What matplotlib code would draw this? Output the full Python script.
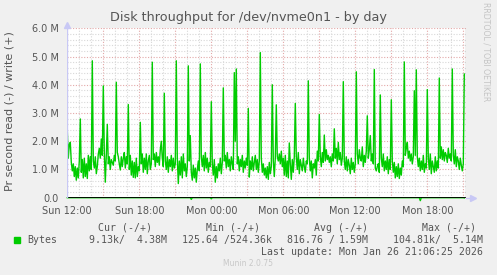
import numpy as np
import matplotlib
matplotlib.use("Agg")
import matplotlib.pyplot as plt

# write throughput (in M), one value per 5 minutes from Sun 12:00
write = [
    2.38, 1.40, 1.90, 1.96, 1.25, 0.95, 1.20, 0.75, 1.10, 0.62, 1.05, 0.70,
    1.30, 2.79, 0.90, 1.35, 0.70, 1.40, 0.75, 1.20, 0.68, 1.50, 0.95, 1.45,
    1.00, 4.85, 1.30, 1.05, 1.45, 0.85, 1.10, 1.55, 1.75, 1.40, 2.08, 1.50,
    3.96, 1.60, 0.55, 1.50, 2.60, 1.20, 1.45, 1.00, 1.35, 1.25, 1.15, 1.50,
    1.30, 4.09, 1.60, 1.45, 1.20, 0.98, 1.45, 1.10, 1.40, 1.60, 1.05, 1.45,
    1.20, 3.30, 1.00, 1.50, 0.80, 1.30, 0.72, 1.25, 0.70, 1.40, 0.75, 1.10,
    0.95, 2.67, 1.20, 1.55, 0.90, 1.40, 1.00, 1.55, 0.85, 1.30, 1.50, 1.00,
    1.20, 4.80, 1.35, 1.55, 1.10, 1.60, 1.25, 1.45, 1.15, 1.70, 2.00, 1.40,
    1.10, 3.70, 1.30, 1.00, 1.45, 0.90, 1.35, 1.10, 1.50, 0.95, 1.40, 1.05,
    1.20, 4.85, 1.40, 0.50, 1.30, 0.80, 1.45, 0.70, 1.55, 0.95, 1.20, 0.75,
    1.10, 4.67, 1.30, 2.20, 0.90, 0.62, 1.15, 0.70, 1.05, 0.55, 1.00, 1.30,
    0.95, 4.74, 1.45, 1.10, 1.50, 0.95, 1.60, 1.05, 1.40, 0.90, 1.25, 1.10,
    3.40, 1.20, 0.80, 1.35, 0.55, 1.10, 0.70, 1.20, 0.95, 1.40, 0.85, 1.25,
    3.89, 1.30, 1.50, 1.05, 1.60, 1.10, 1.35, 0.95, 1.45, 1.20, 1.00, 4.43,
    2.00, 4.56, 1.20, 1.45, 0.95, 1.35, 1.10, 1.50, 0.90, 1.30, 1.05, 1.40,
    1.15, 3.16, 0.73, 1.30, 1.00, 1.45, 0.95, 1.25, 1.50, 1.00, 1.35, 0.90,
    1.30, 5.14, 1.40, 0.90, 1.20, 0.80, 1.05, 0.70, 1.10, 0.65, 1.25, 0.85,
    1.10, 4.00, 1.30, 0.75, 1.40, 3.29, 1.45, 1.30, 1.55, 1.20, 1.65, 1.10,
    1.40, 0.80, 1.50, 0.75, 1.30, 0.70, 1.94, 1.20, 0.65, 1.35, 0.90, 1.45,
    3.34, 1.45, 1.00, 1.60, 0.85, 1.35, 1.15, 0.95, 1.40, 1.10, 0.90, 1.30,
    1.20, 4.14, 1.40, 0.95, 1.30, 0.70, 1.20, 1.05, 1.35, 0.80, 1.65, 1.30,
    2.95, 1.45, 1.10, 1.60, 1.25, 2.22, 1.30, 1.70, 1.35, 1.50, 1.25, 1.45,
    1.10, 1.55, 1.30, 2.44, 1.40, 1.75, 1.20, 1.96, 1.35, 1.60, 1.15, 1.40,
    4.11, 1.30, 1.00, 1.45, 0.95, 1.35, 1.15, 0.85, 1.40, 1.00, 1.25, 0.90,
    1.20, 4.46, 1.55, 1.20, 1.70, 1.40, 1.30, 1.80, 1.10, 1.50, 1.25, 1.65,
    2.90, 1.40, 1.70, 2.20, 1.30, 1.55, 1.20, 4.54, 1.05, 0.95, 1.10, 1.20,
    0.90, 3.64, 1.40, 1.10, 1.55, 0.95, 1.30, 1.00, 1.45, 0.85, 1.35, 1.00,
    3.47, 1.30, 0.90, 1.25, 0.70, 1.10, 0.75, 1.20, 0.68, 1.05, 0.80, 1.30,
    1.10, 4.81, 1.50, 1.75, 1.96, 1.40, 1.65, 1.30, 1.55, 1.20, 1.45, 3.79,
    1.50, 4.53, 1.45, 1.10, 1.40, 0.95, 1.30, 1.00, 1.50, 0.90, 1.20, 1.05,
    3.83, 1.40, 1.00, 1.55, 0.85, 1.30, 1.10, 0.90, 1.45, 0.95, 1.30, 1.05,
    4.24, 1.40, 1.80, 1.35, 1.70, 1.30, 1.60, 1.50, 1.25, 1.75, 1.40, 1.55,
    1.30, 4.56, 1.50, 1.20, 1.70, 1.10, 1.45, 1.30, 1.00, 1.40, 1.15, 0.95,
    1.20, 4.38,
]
# read blips (sample index, kB), everything else ~0
read_idx = [124, 144, 353, 397]
read_kb = [60.0, 40.0, 104.81, 9.13]

ytick_vals = [0, 1, 2, 3, 4, 5, 6]
ytick_labels = ["0.0", "1.0 M", "2.0 M", "3.0 M", "4.0 M", "5.0 M", "6.0 M"]
xtick_hours = [0, 6, 12, 18, 24, 30]
xtick_labels = ["Sun 12:00", "Sun 18:00", "Mon 00:00", "Mon 06:00", "Mon 12:00", "Mon 18:00"]

legend_head = ["Cur (-/+)", "Min (-/+)", "Avg (-/+)", "Max (-/+)"]
legend_vals = ["9.13k/  4.38M", "125.64 /524.36k", "816.76 /", "104.81k/  5.14M"]
avg_write = "1.59M"

W, H = 497, 275
green = "#00cc00"
txt = "#555555"

write = np.array(write)
t = np.arange(len(write)) * 5.0
read = np.zeros(len(write))
read[read_idx] = -np.array(read_kb) / 1000.0

fig = plt.figure(figsize=(W / 100, H / 100), dpi=100, facecolor="#f0f0f0")
x0, x1, ytop, ybot = 67.3, 465.5, 28.3, 197.7
ax = fig.add_axes([x0 / W, 1 - ybot / H, (x1 - x0) / W, (ybot - ytop) / H])
ax.set_facecolor("white")
xmax = (x1 - x0) * 5
ax.set_xlim(0, xmax)
ax.set_ylim(0, 6.0)

# grid: hours minor, 3 hours major; 0.2M minor, 1M major
for m in np.arange(60, xmax, 60):
    major = (m % 180) == 0
    ax.axvline(m, color="#e3a8a8" if major else "#d8d8d8", lw=0.8,
               ls=(0, (1, 1.5)), zorder=1)
for v in np.arange(0.2, 6.01, 0.2):
    major = abs(v - round(v)) < 1e-6
    ax.axhline(v, color="#e3a8a8" if major else "#d8d8d8", lw=0.8,
               ls=(0, (1, 1.5)), zorder=1)

ax.plot(t, read, color=green, lw=1.0, clip_on=False, zorder=2)
ax.plot(t, write, color=green, lw=1.0, zorder=3)
ax.axhline(0, color="black", lw=1.3, zorder=4)
ax.axvline(xmax, color="#888888", lw=0.9, zorder=4)

for s in ax.spines.values():
    s.set_visible(False)
ax.axvline(0, color="#c8c8f5", lw=1.0, zorder=4)
ax.plot([0], [6.12], marker="^", color="#c8c8f5", ms=4, clip_on=False)
ax.plot([xmax, xmax + 35], [0, 0], color="#c8c8f5", lw=1.0, clip_on=False, zorder=0)
ax.plot([xmax + 37], [0], marker=">", color="#c8c8f5", ms=4, clip_on=False)

ax.set_yticks(ytick_vals)
ax.set_yticklabels(ytick_labels)
ax.set_xticks([h * 60 for h in xtick_hours])
ax.set_xticklabels(xtick_labels)
ax.tick_params(length=0, colors=txt, labelsize=7, pad=6)

fig.text(248 / W, 1 - 18 / H, "Disk throughput for /dev/nvme0n1 - by day",
         ha="center", va="center", fontsize=9.2, color=txt)
fig.text(10 / W, 1 - 111 / H, "Pr second read (-) / write (+)", rotation=90,
         ha="center", va="center", fontsize=8, color=txt)
fig.text(486 / W, 1 - 52 / H, "RRDTOOL / TOBI OETIKER", rotation=270,
         ha="center", va="center", fontsize=5.6, color="#c4c4c4")

mono = "DejaVu Sans Mono"
fs = 7.1
head_r = [151.7, 260, 368, 476]
val_l = [89, 182, 287, 393]
for s, xr in zip(legend_head, head_r):
    fig.text(xr / W, 1 - 228 / H, s, ha="right", va="center", fontsize=fs,
             family=mono, color=txt)
fig.patches.append(plt.Rectangle((14 / W, 1 - 242.5 / H), 5.5 / W, 5.5 / H,
                                 transform=fig.transFigure, color=green))
fig.text(27 / W, 1 - 240 / H, "Bytes", ha="left", va="center", fontsize=fs,
         family=mono, color=txt)
for s, xl in zip(legend_vals, val_l):
    fig.text(xl / W, 1 - 240 / H, s, ha="left", va="center", fontsize=fs,
             family=mono, color=txt)
fig.text(369 / W, 1 - 240 / H, avg_write, ha="right", va="center", fontsize=fs,
         family=mono, color=txt)
fig.text(483 / W, 1 - 252 / H, "Last update: Mon Jan 26 21:06:25 2026",
         ha="right", va="center", fontsize=fs, family=mono, color=txt)
fig.text(248 / W, 1 - 264 / H, "Munin 2.0.75", ha="center", va="center",
         fontsize=5.5, color="#c8c8c8")

fig.savefig("out.png", dpi=100, facecolor=fig.get_facecolor())
